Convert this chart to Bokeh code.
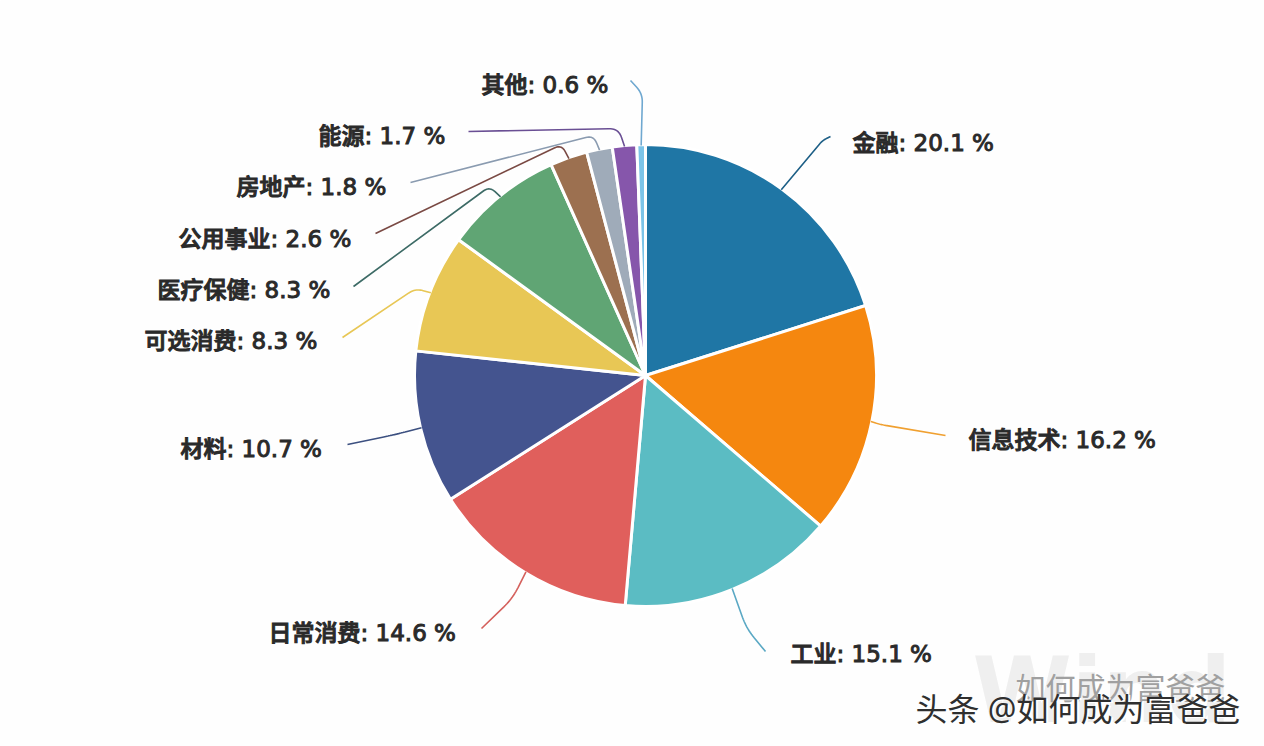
import numpy as np
from bokeh.plotting import figure
from bokeh.models import Range1d
from bokeh.core.properties import value
from bokeh.embed import file_html
from bokeh.resources import INLINE

# ---- data ----
sectors = ["金融", "信息技术", "工业", "日常消费", "材料", "可选消费", "医疗保健", "公用事业", "房地产", "能源", "其他"]
shares = [20.1, 16.2, 15.1, 14.6, 10.7, 8.3, 8.3, 2.6, 1.8, 1.7, 0.6]

# ---- style / layout ----
colors = ["#1f76a5", "#f5870f", "#5bbcc3", "#e05f5c", "#44548f", "#e8c755", "#60a574", "#9c7050", "#9fabb9", "#8656ab", "#7cc4e8"]
line_colors = ["#1d5f86", "#f0a030", "#5aa8c4", "#d4605c", "#3c5080", "#e8c755", "#3d6b66", "#7a4a44", "#8a9bb0", "#6a4f94", "#6fa8d0"]
W, H = 1264, 746
CX, CY, R = 645, 375, 231
label_pos = [(852, 142), (968, 439), (790, 653), (268, 632), (180, 448), (144, 340), (157, 289), (178, 238), (236, 186), (318, 135), (481, 84)]
leader_knee = [(822, 140), (880, 424), (746, 628), (512, 598), (395, 434), (415, 288), (489, 186), (561, 144), (593, 135), (618, 128), (642, 93)]
leader_end = [(830, 136), (945, 435), (765, 651), (481, 628), (347, 444), (342, 337), (353, 286), (375, 233), (410, 182), (468, 131), (630, 80)]
FONT = value('"DejaVu Sans", "Noto Sans CJK SC Medium", "Noto Sans CJK SC"')
WM_FONT = value('"Noto Sans", "Noto Sans CJK SC"')


def sy(y):
    return H - y


p = figure(width=W, height=H, output_backend="svg", toolbar_location=None,
           x_range=Range1d(0, W), y_range=Range1d(0, H), min_border=0)
p.axis.visible = False
p.grid.visible = False
p.outline_line_color = None
p.background_fill_color = "#fefefe"
p.border_fill_color = "#fefefe"

# watermark behind everything
p.text([972], [sy(690)], ["Wind"], text_font=value("DejaVu Sans"), text_font_style="bold", text_font_size="90px",
       text_color="#efefef", text_baseline="middle")

fr = np.array(shares) / sum(shares)
cum = np.concatenate([[0], np.cumsum(fr)])
start = np.pi / 2 - 2 * np.pi * cum[:-1]
end = np.pi / 2 - 2 * np.pi * cum[1:]
p.wedge(x=CX, y=sy(CY), radius=R, start_angle=end, end_angle=start, direction="anticlock",
        fill_color=colors, line_color="#ffffff", line_width=3)


def rounded(a, k, b):
    a, k, b = np.array(a, float), np.array(k, float), np.array(b, float)
    la, lb = np.linalg.norm(a - k), np.linalg.norm(b - k)
    r = min(12, la / 2, lb / 2)
    pa, pb = k + (a - k) / la * r, k + (b - k) / lb * r
    t = np.linspace(0, 1, 12)[:, None]
    c = (1 - t) ** 2 * pa + 2 * t * (1 - t) * k + t ** 2 * pb
    return np.vstack([a, c, b])


mid = (cum[:-1] + cum[1:]) / 2 * 2 * np.pi
for i, name in enumerate(sectors):
    a = (CX + (R - 1) * np.sin(mid[i]), CY - (R - 1) * np.cos(mid[i]))
    pts = rounded(a, leader_knee[i], leader_end[i])
    p.line(pts[:, 0], H - pts[:, 1], line_color=line_colors[i], line_width=1.6)
    lx, ly = label_pos[i]
    p.text([lx], [sy(ly)], [f"{name}: {shares[i]:.1f} %"], text_font=FONT, text_font_size="23px",
           text_font_style="normal", text_color="#2a2a2a", text_outline_color="#2a2a2a",
           text_baseline="middle", text_align="left")

# site watermark
p.text([1015], [sy(687)], ["如何成为富爸爸"], text_font=WM_FONT, text_font_size="30px", text_color="#a0a0a0",
       text_baseline="middle")
p.text([917], [sy(709)], ["头条 @如何成为富爸爸"], text_font=WM_FONT, text_font_size="32px", text_color="#ffffff",
       text_baseline="middle")
p.text([915], [sy(708)], ["头条 @如何成为富爸爸"], text_font=WM_FONT, text_font_size="32px", text_color="#2f2f2f",
       text_baseline="middle")

open("out.html", "w").write(file_html(p, INLINE))
